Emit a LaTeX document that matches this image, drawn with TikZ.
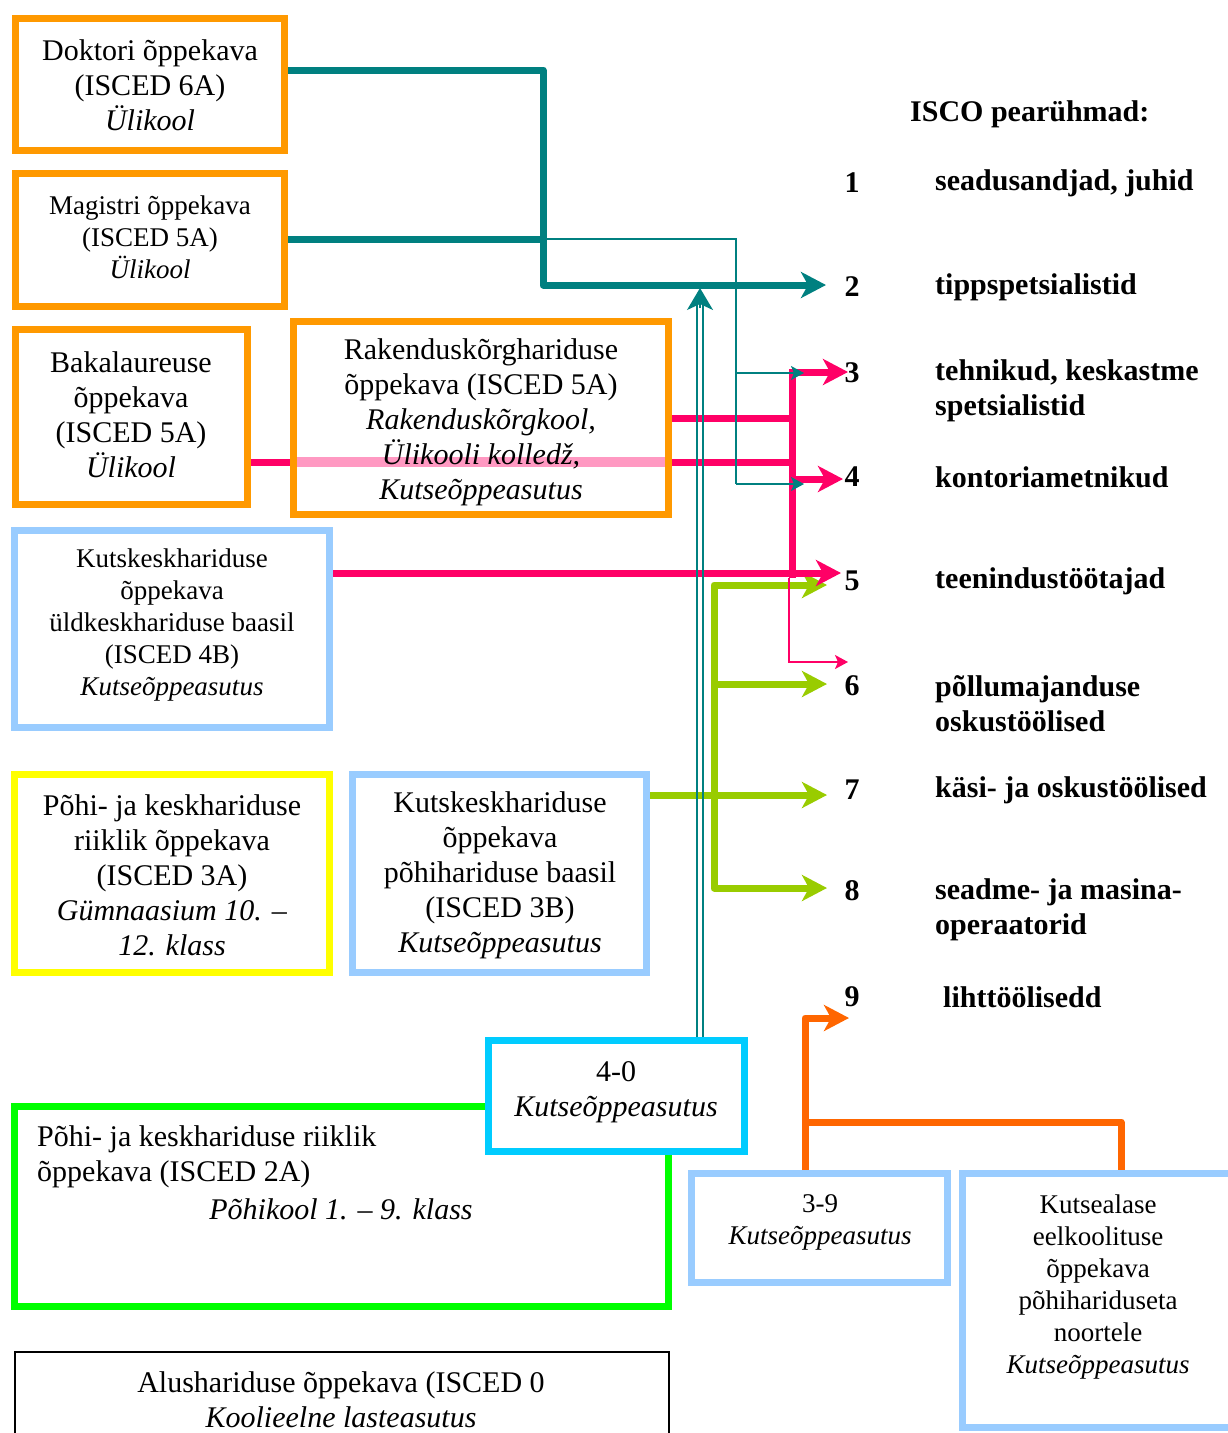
\documentclass[tikz,border=0pt]{standalone}
\usepackage{fontspec}
\setmainfont{Liberation Serif}
\usetikzlibrary{arrows.meta,calc}
\newcommand\fsA{\fontsize{30}{35}\selectfont}
\newcommand\fsB{\fontsize{27}{32}\selectfont}
\definecolor{orbox}{RGB}{255,153,0}
\definecolor{lbbox}{RGB}{153,204,255}
\definecolor{yebox}{RGB}{255,255,0}
\definecolor{cybox}{RGB}{0,204,255}
\definecolor{grbox}{RGB}{0,255,0}
\definecolor{tealc}{RGB}{0,128,128}
\definecolor{pinkc}{RGB}{255,0,102}
\definecolor{limec}{RGB}{153,204,0}
\definecolor{orac}{RGB}{255,102,0}
\begin{document}
\begin{tikzpicture}[x=1pt,y=-1pt,
  box/.style={draw=#1,line width=7pt,fill=white,inner sep=0pt},
  txa/.style={align=center,inner sep=0pt,font=\fsA,yshift=-2.5pt},
  txb/.style={align=center,inner sep=0pt,font=\fsB,yshift=-2.5pt},
  num/.style={inner sep=0pt,font=\fsA\bfseries,yshift=-2pt},
  lab/.style={inner sep=0pt,font=\fsA\bfseries,align=left,anchor=west,yshift=-2.5pt},
  thickln/.style={line width=7pt,line join=round,draw=#1},
  thinln/.style={line width=1.5pt,draw=#1},
  bigtip/.style={-{Stealth[length=25pt,width=26pt,inset=7pt]}},
  bothtip/.style={{Stealth[length=25pt,width=26pt,inset=7pt]}-{Stealth[length=25pt,width=26pt,inset=7pt]}},
  smalltip/.style={-{Stealth[length=13pt,width=14pt,inset=3pt]}}
]
\useasboundingbox (0,0) rectangle (1227,1433);

% ---------- boxes ----------
\node[box=orbox,minimum width=269.5,minimum height=132] (dok) at (149.75,84.5) {};
\node[box=orbox,minimum width=269.5,minimum height=133] (mag) at (149.75,240) {};
\node[box=orbox,minimum width=232,minimum height=175] (bak) at (131.5,417) {};
\node[box=orbox,minimum width=375,minimum height=193] (rak) at (481,418) {};
\node[box=lbbox,minimum width=315,minimum height=197] (k4b) at (172,629) {};
\node[box=yebox,minimum width=315,minimum height=198] (g3a) at (172,873.5) {};
\node[box=lbbox,minimum width=294,minimum height=198] (k3b) at (499.5,873.5) {};
\node[box=grbox,minimum width=654,minimum height=200] (grn) at (341.5,1206.5) {};
\node[box=cybox,minimum width=256,minimum height=111] (f40) at (616.5,1096) {};
\node[draw=black,line width=2pt,fill=white,inner sep=0pt,minimum width=654,minimum height=107] (alu) at (341.5,1405.5) {};
\node[box=lbbox,minimum width=256,minimum height=109] (b39) at (819.5,1228) {};
\node[box=lbbox,minimum width=271,minimum height=254] (kut) at (1098,1300.5) {};

% pink band inside the Rakendus box
\fill[pinkc!40] ($(rak.west |- 0,457)+(7,0)$) rectangle ($(rak.east |- 0,467)+(-7,0)$);

% ---------- box texts ----------
\node[txa] (dokt) at (150,83) {Doktori õppekava\\(ISCED 6A)\\\textit{Ülikool}};
\node[txb] (magt) at (150,235) {Magistri õppekava\\(ISCED 5A)\\\textit{Ülikool}};
\node[txa] (bakt) at (131,412) {Bakalaureuse\\õppekava\\(ISCED 5A)\\\textit{Ülikool}};
\node[txa] (rakt) at (481,420) {Rakenduskõrghariduse\\õppekava (ISCED 5A)\\\textit{Rakenduskõrgkool,}\\\textit{Ülikooli kolledž,}\\\textit{Kutseõppeasutus}};
\node[txb] (k4bt) at (172,622) {Kutskeskhariduse\\õppekava\\üldkeskhariduse baasil\\(ISCED 4B)\\\textit{Kutseõppeasutus}};
\node[txa] (g3at) at (172,873) {Põhi- ja keskhariduse\\riiklik õppekava\\(ISCED 3A)\\\textit{Gümnaasium 10. –}\\\textit{12. klass}};
\node[txa] (k3bt) at (500,873) {Kutskeskhariduse\\õppekava\\põhihariduse baasil\\(ISCED 3B)\\\textit{Kutseõppeasutus}};
\node[txa] (f40t) at (616,1090) {4-0\\\textit{Kutseõppeasutus}};
\node[txa,align=left,anchor=west] (grnt) at (37,1154.5) {Põhi- ja keskhariduse riiklik\\õppekava (ISCED 2A)};
\node[txa] (grnt2) at (341,1207) {\textit{Põhikool 1. – 9. klass}};
\node[txa] (alut) at (341,1397) {Alushariduse õppekava (ISCED 0\\\textit{Koolieelne lasteasutus}};
\node[txb] (b39t) at (820,1220) {3-9\\\textit{Kutseõppeasutus}};
\node[txb] (kutt) at (1098,1284) {Kutsealase\\eelkoolituse\\õppekava\\põhihariduseta\\noortele\\\textit{Kutseõppeasutus}};

% ---------- right column ----------
\node[lab] (isco) at (910,112) {ISCO pearühmad:};
\node[num] (n1) at (852,181) {1};
\node[num] (n2) at (852,285) {2};
\node[num] (n3) at (852,371) {3};
\node[num] (n4) at (852,475) {4};
\node[num] (n5) at (852,579) {5};
\node[num] (n6) at (852,684) {6};
\node[num] (n7) at (852,788) {7};
\node[num] (n8) at (852,889) {8};
\node[num] (n9) at (852,995) {9};
\node[lab] (l1) at (935,181) {seadusandjad, juhid};
\node[lab] (l2) at (935,285) {tippspetsialistid};
\node[lab] (l3) at (935,388) {tehnikud, keskastme\\spetsialistid};
\node[lab] (l4) at (935,475) {kontoriametnikud};
\node[lab] (l5) at (935,579) {teenindustöötajad};
\node[lab] (l6) at (935,701) {põllumajanduse\\oskustöölised};
\node[lab] (l7) at (935,788) {käsi- ja oskustöölised};
\node[lab] (l8) at (935,907) {seadme- ja masina-\\operaatorid};
\node[lab] (l9) at (943,995) {lihttöölisedd};

% ---------- arrow tip coordinates ----------
\coordinate (t2) at (826,285);
\coordinate (tt3) at (804,373);
\coordinate (tt4) at (804,484);
\coordinate (p3) at (848,372);
\coordinate (p4) at (843,479);
\coordinate (p5) at (841,573);
\coordinate (p6) at (848,662);
\coordinate (g5) at (827,585);
\coordinate (g6) at (827,684);
\coordinate (g7) at (827,795);
\coordinate (g8) at (827,888);
\coordinate (o9) at (849,1018);
\coordinate (tv) at (700,288);

% ---------- green connectors ----------
\draw[thickln=limec,bigtip] (k3b.east |- 0,795) -- (g7);
\draw[thickln=limec,bothtip] (g5) -- (714,585) -- (714,888) -- (g8);
\draw[thickln=limec,bigtip] (714,684) -- (g6);

% ---------- pink connectors ----------
\draw[thickln=pinkc] (bak.east |- 0,462) -- (rak.west |- 0,462);
\draw[thickln=pinkc] (rak.east |- 0,462) -- (792,462);
\draw[thickln=pinkc] (rak.east |- 0,418) -- (792,418);
\draw[thickln=pinkc,line join=miter,bigtip] (792,578) -- (792,372) -- (p3);
\draw[thickln=pinkc,bigtip] (792,479) -- (p4);
\draw[thickln=pinkc,bigtip] (k4b.east |- 0,573) -- (p5);
\draw[thinln=pinkc,smalltip] (789,578) -- (789,662) -- (p6);

% ---------- orange connectors ----------
\draw[thickln=orac,bigtip] (b39.north -| 805,0) -- (805,1018) -- (o9);
\draw[thickln=orac] (805,1122) -- (1121,1122) -- (kut.north -| 1121,0);

% ---------- teal connectors ----------
\draw[thickln=tealc,bigtip] (dok.east |- 0,70) -- (543,70) -- (543,285) -- (t2);
\draw[thickln=tealc] (mag.east |- 0,239) -- (543,239);
\draw[thinln=tealc] (543,239) -- (736,239) -- (736,484);
\draw[thinln=tealc,smalltip] (736,373) -- (tt3);
\draw[thinln=tealc,smalltip] (736,484) -- (tt4);
\draw[thinln=tealc] (f40.north -| 697,0) -- (697,304);
\draw[thinln=tealc] (f40.north -| 703,0) -- (703,304);
\draw[thinln=tealc,-{Stealth[length=22pt,width=26pt,inset=6pt]}] (700,308) -- (tv);
\end{tikzpicture}
\end{document}
